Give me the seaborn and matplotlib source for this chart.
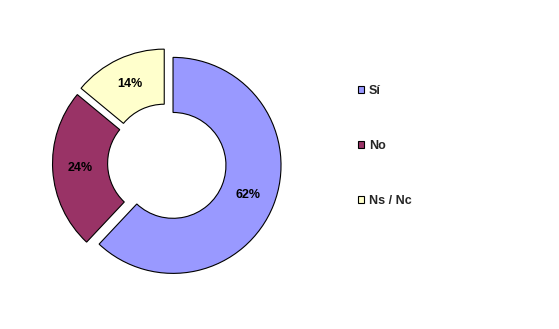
import matplotlib
matplotlib.use("Agg")
import matplotlib.pyplot as plt
from matplotlib.patches import Patch
import seaborn as sns

categories = ["Sí", "No", "Ns / Nc"]
values = [62, 24, 14]
colors = ["#9999FF", "#993366", "#FFFFCC"]

sns.set_theme(style="white")
plt.rcParams["font.family"] = ["Liberation Sans", "DejaVu Sans"]

W, H = 559, 329
fig = plt.figure(figsize=(W / 100, H / 100), dpi=100)
fig.patch.set_facecolor("white")

R = 108
cx, cy = 167, 163
half = 1.5 * R
ax = fig.add_axes([(cx - half) / W, (H - cy - half) / H, 2 * half / W, 2 * half / H])

wedges, texts = ax.pie(
    values,
    colors=colors,
    startangle=90,
    counterclock=False,
    explode=[0.06] * len(values),
    labels=[f"{v}%" for v in values],
    labeldistance=0.745,
    wedgeprops=dict(width=0.51, edgecolor="black", linewidth=0.8),
    textprops=dict(fontsize=9, fontweight="bold", color="black", ha="center", va="center"),
)
for t in texts:
    t.set_ha("center")
    t.set_va("center")
ax.set_xlim(-1.5, 1.5)
ax.set_ylim(-1.5, 1.5)
ax.axis("off")

handles = [Patch(facecolor=c, edgecolor="black", linewidth=0.8) for c in colors]
leg = fig.legend(
    handles, categories,
    loc="upper left",
    bbox_to_anchor=(358 / W, 1 - 85 / H),
    frameon=False,
    prop=dict(size=9, weight="bold"),
    handlelength=0.5, handleheight=0.5, handletextpad=0.35,
    labelspacing=3.45, borderpad=0, borderaxespad=0,
)

fig.savefig("out.png", dpi=100, facecolor="white")
